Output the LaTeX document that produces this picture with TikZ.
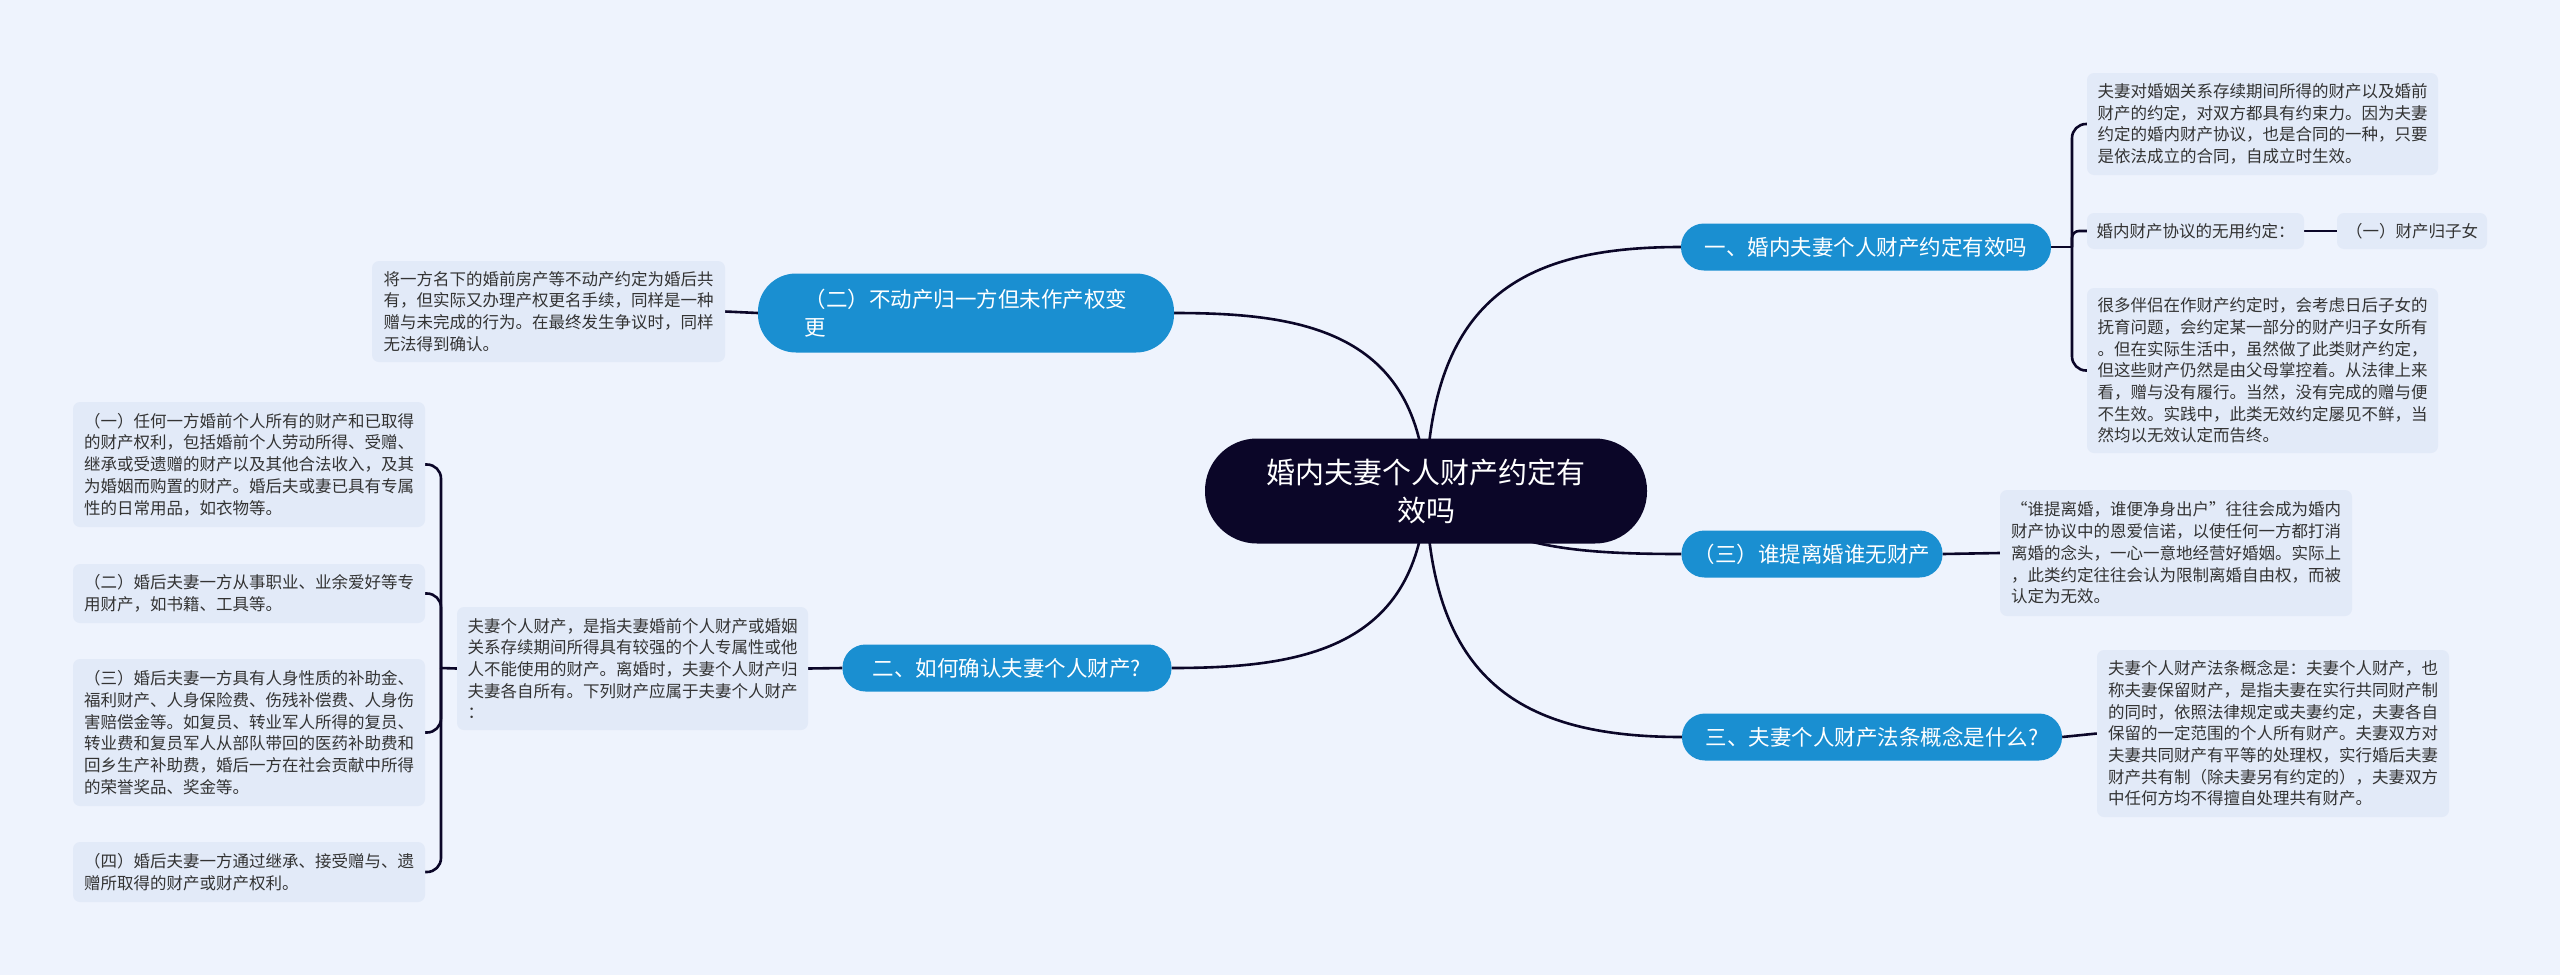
\documentclass[tikz,border=0pt]{standalone}
\usepackage{fontspec}
\setmainfont{Noto Sans CJK SC}
\usetikzlibrary{backgrounds}
\definecolor{bgC}{HTML}{EEF3FD}
\definecolor{leafC}{HTML}{E2EAF8}
\definecolor{blueC}{HTML}{1A8FD1}
\definecolor{rootC}{HTML}{0B0628}
\definecolor{lineC}{HTML}{0B0628}
\definecolor{textC}{HTML}{333333}
\begin{document}
\begin{tikzpicture}[x=1pt,y=-1pt,
  conn/.style={draw=lineC, line width=2.6pt},
  rootbox/.style={fill=rootC, text=white, rounded corners=52pt, minimum width=442pt, minimum height=105pt, inner sep=0pt, align=center, font=\fontsize{29}{38}\selectfont},
  branch/.style={fill=blueC, text=white, rounded corners=23pt, minimum height=47pt, inner sep=0pt, font=\fontsize{21.5}{28}\selectfont},
  leaf/.style={fill=leafC, text=textC, rounded corners=7pt, inner sep=0pt, align=left, font=\fontsize{16.5}{21.7}\selectfont},
]
\useasboundingbox (0,0) rectangle (2560,975);

\node[rootbox] (root) at (1426,491) {婚内夫妻个人财产约定有\\效吗};
\node[branch, minimum width=370pt] (b1) at (1866,247) {一、婚内夫妻个人财产约定有效吗};
\node[branch, minimum width=416pt, minimum height=79pt, rounded corners=38pt, align=left] (b2) at (966,313) {（二）不动产归一方但未作产权变\\更};
\node[branch, minimum width=329pt] (b3) at (1007,668) {二、如何确认夫妻个人财产?};
\node[branch, minimum width=261pt] (b4) at (1812,554) {（三）谁提离婚谁无财产};
\node[branch, minimum width=380pt] (b5) at (1872,737) {三、夫妻个人财产法条概念是什么?};

\node[leaf, minimum width=351pt, minimum height=102pt] (r1) at (2262.5,124) {夫妻对婚姻关系存续期间所得的财产以及婚前\\财产的约定，对双方都具有约束力。因为夫妻\\约定的婚内财产协议，也是合同的一种，只要\\是依法成立的合同，自成立时生效。};
\node[leaf, minimum width=217pt, minimum height=36pt] (r2) at (2195.5,231) {婚内财产协议的无用约定：};
\node[leaf, minimum width=150pt, minimum height=36pt] (r2b) at (2412,231) {（一）财产归子女};
\node[leaf, minimum width=351pt, minimum height=165pt] (r3) at (2262.5,370.5) {很多伴侣在作财产约定时，会考虑日后子女的\\抚育问题，会约定某一部分的财产归子女所有\\。但在实际生活中，虽然做了此类财产约定，\\但这些财产仍然是由父母掌控着。从法律上来\\看，赠与没有履行。当然，没有完成的赠与便\\不生效。实践中，此类无效约定屡见不鲜，当\\然均以无效认定而告终。};
\node[leaf, minimum width=352pt, minimum height=126pt] (l4) at (2176,553) {“谁提离婚，谁便净身出户”往往会成为婚内\\财产协议中的恩爱信诺，以使任何一方都打消\\离婚的念头，一心一意地经营好婚姻。实际上\\，此类约定往往会认为限制离婚自由权，而被\\认定为无效。};
\node[leaf, minimum width=352pt, minimum height=167pt] (l5) at (2273,733.5) {夫妻个人财产法条概念是：夫妻个人财产，也\\称夫妻保留财产，是指夫妻在实行共同财产制\\的同时，依照法律规定或夫妻约定，夫妻各自\\保留的一定范围的个人所有财产。夫妻双方对\\夫妻共同财产有平等的处理权，实行婚后夫妻\\财产共有制（除夫妻另有约定的），夫妻双方\\中任何方均不得擅自处理共有财产。};
\node[leaf, minimum width=353pt, minimum height=101pt] (l2) at (548.5,311.5) {将一方名下的婚前房产等不动产约定为婚后共\\有，但实际又办理产权更名手续，同样是一种\\赠与未完成的行为。在最终发生争议时，同样\\无法得到确认。};
\node[leaf, minimum width=351pt, minimum height=123pt] (l3) at (632.5,668.5) {夫妻个人财产，是指夫妻婚前个人财产或婚姻\\关系存续期间所得具有较强的个人专属性或他\\人不能使用的财产。离婚时，夫妻个人财产归\\夫妻各自所有。下列财产应属于夫妻个人财产\\：};
\node[leaf, minimum width=352pt, minimum height=125pt] (ll1) at (249,464.5) {（一）任何一方婚前个人所有的财产和已取得\\的财产权利，包括婚前个人劳动所得、受赠、\\继承或受遗赠的财产以及其他合法收入，及其\\为婚姻而购置的财产。婚后夫或妻已具有专属\\性的日常用品，如衣物等。};
\node[leaf, minimum width=352pt, minimum height=59pt] (ll2) at (249,593.5) {（二）婚后夫妻一方从事职业、业余爱好等专\\用财产，如书籍、工具等。};
\node[leaf, minimum width=352pt, minimum height=147pt] (ll3) at (249,732.5) {（三）婚后夫妻一方具有人身性质的补助金、\\福利财产、人身保险费、伤残补偿费、人身伤\\害赔偿金等。如复员、转业军人所得的复员、\\转业费和复员军人从部队带回的医药补助费和\\回乡生产补助费，婚后一方在社会贡献中所得\\的荣誉奖品、奖金等。};
\node[leaf, minimum width=352pt, minimum height=60pt] (ll4) at (249,872) {（四）婚后夫妻一方通过继承、接受赠与、遗\\赠所取得的财产或财产权利。};

\coordinate (j1) at (2072,247);
\coordinate (j2) at (441,668);

\begin{scope}[on background layer]
\fill[bgC] (0,0) rectangle (2560,975);
\draw[conn] (root.center) .. controls (1430,300) and (1520,247) .. (b1.west);
\draw[conn] (root.center) .. controls (1500,545) and (1560,554) .. (b4.west);
\draw[conn] (root.center) .. controls (1430,680) and (1520,737) .. (b5.west);
\draw[conn] (root.center) .. controls (1420,330) and (1300,313) .. (b2.east);
\draw[conn] (root.center) .. controls (1420,650) and (1300,668) .. (b3.east);
\draw[conn] (b1.east) -- (j1);
\draw[conn, rounded corners=14pt] (j1) -- (j1 |- r1.west) -- (r1.west);
\draw[conn, rounded corners=7pt] (j1) -- (j1 |- r2.west) -- (r2.west);
\draw[conn, rounded corners=14pt] (j1) -- (j1 |- r3.west) -- (r3.west);
\draw[conn] (r2.east) -- (r2b.west);
\draw[conn] (b4.east) -- (l4.west);
\draw[conn] (b5.east) -- (l5.west);
\draw[conn] (b2.west) -- (l2.east);
\draw[conn] (b3.west) -- (l3.east);
\draw[conn] (l3.west) -- (j2);
\draw[conn, rounded corners=14pt] (j2) -- (j2 |- ll1.east) -- (ll1.east);
\draw[conn, rounded corners=14pt] (j2) -- (j2 |- ll2.east) -- (ll2.east);
\draw[conn, rounded corners=14pt] (j2) -- (j2 |- ll3.east) -- (ll3.east);
\draw[conn, rounded corners=14pt] (j2) -- (j2 |- ll4.east) -- (ll4.east);
\end{scope}
\end{tikzpicture}
\end{document}
